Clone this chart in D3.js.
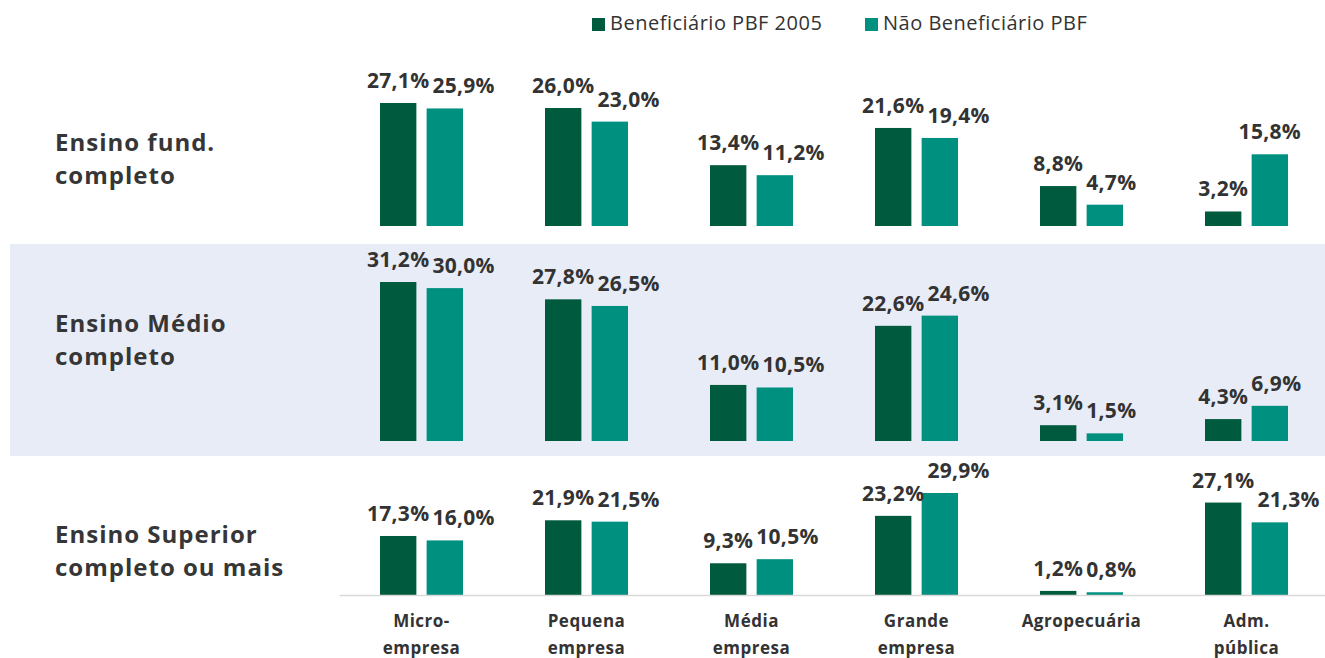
<!DOCTYPE html>
<html lang="pt">
<head>
<meta charset="UTF-8" />
<script src="https://d3js.org/d3.v7.min.js"></script>
<title>Beneficiários PBF por porte de empresa</title>
<style>
  body { margin: 0; background: #fff; }
  svg { display: block; }
  svg text { font-family: "Open Sans", "Noto Sans", sans-serif; }
  .val { font-weight: 700; font-size: 21px; letter-spacing: 0.3px; fill: #333; }
  .rowlab { font-weight: 700; font-size: 24px; letter-spacing: 1px; fill: #363636; }
  .cat text { font-weight: 700; font-size: 17px; letter-spacing: 0.5px; fill: #333; }
  .cat .domain { stroke: #d9d9d9; stroke-width: 1.5; }
  .leg { font-size: 20px; letter-spacing: 0.5px; fill: #333; }
</style>
</head>
<body>
<script>
var width = 1325, height = 658;

// data
var categories = ["Micro-\nempresa", "Pequena\nempresa", "Média\nempresa", "Grande\nempresa", "Agropecuária", "Adm.\npública"];
var seriesNames = ["Beneficiário PBF 2005", "Não Beneficiário PBF"];
var rowLabels = ["Ensino fund.\ncompleto", "Ensino Médio\ncompleto", "Ensino Superior\ncompleto ou mais"];
var beneficiario = [
  [27.1, 26.0, 13.4, 21.6, 8.8, 3.2],
  [31.2, 27.8, 11.0, 22.6, 3.1, 4.3],
  [17.3, 21.9, 9.3, 23.2, 1.2, 27.1]
];
var naoBeneficiario = [
  [25.9, 23.0, 11.2, 19.4, 4.7, 15.8],
  [30.0, 26.5, 10.5, 24.6, 1.5, 6.9],
  [16.0, 21.5, 10.5, 29.9, 0.8, 21.3]
];

var colors = ["#005a3d", "#00907f"];
var fmt = function(v){ return d3.format(".1f")(v).replace(".", ",") + "%"; };

// layout per row: baseline and height of the tallest bar
var rowLayout = [
  {base: 226, h: 123, labY: 145},
  {base: 441, h: 159, labY: 326},
  {base: 595, h: 102, labY: 537}
];

var svg = d3.select("body").append("svg")
  .attr("width", width).attr("height", height);

// shaded band behind middle row
svg.append("rect")
  .attr("x", 10).attr("y", 244)
  .attr("width", width - 10).attr("height", 212)
  .attr("fill", "#e8ecf6");

var x0 = d3.scaleBand().domain(categories).range([339, 1329]);
var x1 = d3.scaleBand().domain(seriesNames).range([-41.5, 41.5]).paddingInner(0.22);

rowLabels.forEach(function(lab, r){
  var lay = rowLayout[r];
  var maxV = d3.max(beneficiario[r].concat(naoBeneficiario[r]));
  var y = d3.scaleLinear().domain([0, maxV]).range([lay.base, lay.base - lay.h]);

  // one text per line so the two lines stay separate
  lab.split("\n").forEach(function(l, i){
    svg.append("text").attr("class", "rowlab")
      .attr("x", 55).attr("y", lay.labY + i * 33)
      .attr("dominant-baseline", "middle").text(l);
  });

  var rows = categories.map(function(c, i){
    return [
      {cat: c, s: seriesNames[0], v: beneficiario[r][i]},
      {cat: c, s: seriesNames[1], v: naoBeneficiario[r][i]}
    ];
  });

  var g = svg.append("g");
  var grp = g.selectAll("g.grp").data(rows).enter().append("g")
    .attr("class", "grp")
    .attr("transform", function(d){ return "translate(" + (x0(d[0].cat) + x0.bandwidth() / 2) + ",0)"; });

  grp.selectAll("rect").data(function(d){ return d; }).enter().append("rect")
    .attr("x", function(d){ return x1(d.s); })
    .attr("width", x1.bandwidth())
    .attr("y", function(d){ return y(d.v); })
    .attr("height", function(d){ return lay.base - y(d.v); })
    .attr("fill", function(d, i){ return colors[i]; });

  grp.each(function(d){
    var node = d3.select(this);
    var labs = d.map(function(p){
      return node.append("text").attr("class", "val")
        .attr("text-anchor", "middle")
        .attr("x", x1(p.s) + x1.bandwidth() / 2)
        .attr("y", y(p.v) - 15)
        .text(fmt(p.v));
    });
    // nudge second label to the right if it collides with the first
    var a = labs[0].node().getBBox(), b = labs[1].node().getBBox();
    var dy = Math.abs(y(d[0].v) - y(d[1].v));
    if (dy < 30 && b.x < a.x + a.width + 4) {
      var shift = a.x + a.width + 3 - b.x;
      labs[1].attr("x", +labs[1].attr("x") + shift);
    }
  });
});

// category axis under the last row
var axis = d3.axisBottom(x0).tickSize(0).tickSizeOuter(0).tickPadding(0);
var ax = svg.append("g").attr("class", "cat")
  .attr("transform", "translate(0," + rowLayout[2].base + ")")
  .call(axis);
ax.selectAll(".tick text").each(function(d){
  var t = d3.select(this).text(null).attr("dy", null).attr("y", 0);
  d.split("\n").forEach(function(l, i){
    t.append("tspan").attr("x", 0).attr("y", 32 + i * 27).text(l);
  });
});

// legend
var legX = [592, 865];
seriesNames.forEach(function(s, i){
  svg.append("rect").attr("x", legX[i]).attr("y", 18)
    .attr("width", 13).attr("height", 13).attr("fill", colors[i]);
  svg.append("text").attr("class", "leg")
    .attr("x", legX[i] + 18).attr("y", 25)
    .attr("dominant-baseline", "middle").text(s);
});
</script>
</body>
</html>
